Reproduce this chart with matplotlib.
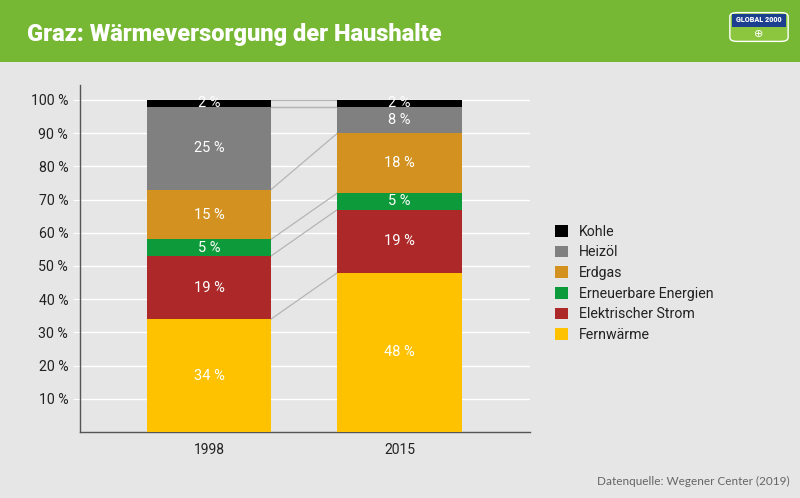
import matplotlib.pyplot as plt
import numpy as np
from matplotlib.patches import Patch, Rectangle, FancyBboxPatch

plt.rcParams["font.family"] = ["Roboto", "DejaVu Sans"]

years = ["1998", "2015"]
sources = ["Fernwärme", "Elektrischer Strom", "Erneuerbare Energien",
           "Erdgas", "Heizöl", "Kohle"]
shares_1998 = [34, 19, 5, 15, 25, 2]
shares_2015 = [48, 19, 5, 18, 8, 2]
colors = ["#fec200", "#ad2929", "#0d9a3b", "#d3911f", "#808080", "#000000"]

bg = "#e6e6e6"
fig = plt.figure(figsize=(8, 4.98), dpi=100, facecolor=bg)

# header band
fig.patches.append(Rectangle((0, 1 - 62 / 498), 1, 62 / 498, transform=fig.transFigure,
                             facecolor="#76b834", edgecolor="none", zorder=-1))
fig.text(27 / 800, 1 - 34 / 498, "Graz: Wärmeversorgung der Haushalte", color="white",
         fontsize=17, fontweight="heavy", va="center", ha="left")

# simple logo
logo = fig.add_axes([728 / 800, 1 - 43 / 498, 62 / 800, 32 / 498])
logo.set_xlim(0, 1)
logo.set_ylim(0, 1)
logo.axis("off")
logo.add_patch(FancyBboxPatch((0.03, 0.05), 0.94, 0.9, boxstyle="round,pad=0,rounding_size=0.12",
                              facecolor="#8cc63f", edgecolor="white", lw=1))
logo.add_patch(Rectangle((0.06, 0.5), 0.88, 0.42, facecolor="#1c3f8f", edgecolor="none"))
logo.text(0.5, 0.71, "GLOBAL 2000", color="white", fontsize=5.2, fontweight="heavy",
          ha="center", va="center")
logo.text(0.5, 0.27, "⊕", color="white", fontsize=8, ha="center", va="center")

ax = fig.add_axes([80 / 800, 1 - 432 / 498, 450 / 800, 347 / 498])
ax.set_facecolor(bg)
x = np.array([0, 1])
width = 0.651
data = np.array([shares_1998, shares_2015])
bottom = np.zeros(2)
for i, name in enumerate(sources):
    vals = data[:, i]
    ax.bar(x, vals, width, bottom=bottom, color=colors[i], zorder=3, label=name)
    for xi, v, b in zip(x, vals, bottom):
        ax.text(xi, b + v / 2, f"{v} %", color="white", fontsize=10.5,
                ha="center", va="center", zorder=4)
    bottom = bottom + vals

# connector lines between segment boundaries
cum = np.cumsum(data, axis=1)
for j in range(cum.shape[1]):
    ax.plot([width / 2, 1 - width / 2], [cum[0, j], cum[1, j]], color="#b5b5b5",
            lw=0.9, zorder=2)
ax.plot([width / 2, 1 - width / 2], [98, 98], color="#b5b5b5", lw=0.9, zorder=2)

ax.set_xlim(-0.677, 1.685)
ax.set_ylim(0, 104.5)
ax.set_yticks(range(10, 101, 10))
ax.set_yticklabels([f"{t} %" for t in range(10, 101, 10)])
ax.set_xticks(x)
ax.set_xticklabels(years)
ax.grid(axis="y", color="white", lw=1, zorder=1)
ax.tick_params(axis="y", length=5, color="white", labelsize=10.2, labelcolor="#222222", pad=3.5)
ax.tick_params(axis="x", length=0, labelsize=10, labelcolor="#222222", pad=8)
for s in ["top", "right"]:
    ax.spines[s].set_visible(False)
for s in ["left", "bottom"]:
    ax.spines[s].set_color("#555555")
    ax.spines[s].set_linewidth(1)

handles = [Patch(facecolor=c, label=n) for n, c in zip(sources, colors)][::-1]
fig.legend(handles=handles, loc="upper left", bbox_to_anchor=(542 / 800, 1 - 212 / 498),
           frameon=False, fontsize=10.2, handlelength=0.9, handleheight=0.9,
           labelspacing=0.47, handletextpad=0.8, labelcolor="#222222")

fig.text(790 / 800, 1 - 481 / 498, "Datenquelle: Wegener Center (2019)", color="#666666",
         fontsize=8.5, ha="right", va="center", family=["Lato", "DejaVu Sans"])

fig.savefig("out.png", dpi=100, facecolor=bg)
